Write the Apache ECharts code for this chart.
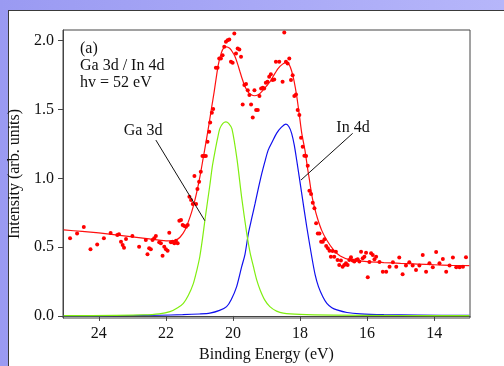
<!DOCTYPE html>
<html>
<head>
<meta charset="utf-8">
<script src="https://cdn.jsdelivr.net/npm/echarts@6/dist/echarts.min.js"></script>
<style>
html,body{margin:0;padding:0;width:504px;height:366px;overflow:hidden;}
#bg{position:absolute;left:0;top:0;width:504px;height:366px;background:linear-gradient(90deg,#9a9af2 0%,#a8a8f6 50%,#b6b6fa 100%);}
#panel{position:absolute;left:8px;top:10px;width:500px;height:360px;background:#fff;border-left:1px solid #3a3a3a;border-top:1px solid #3a3a3a;}
#chart{position:absolute;left:0;top:0;width:504px;height:366px;}
</style>
</head>
<body>
<div id="bg"></div>
<div id="panel"></div>
<div id="chart"></div>
<script>
// ---- data ----
const xTicks = [24, 22, 20, 18, 16, 14];
const yTicks = [0, 0.5, 1.0, 1.5, 2.0];

const fitE = [25.05,24.5,24.0,23.5,23.0,22.5,22.0,21.8,21.7,21.58,21.43,21.28,21.18,21.08,20.98,20.89,20.80,20.72,20.64,20.56,20.44,20.35,20.27,20.19,20.10,20.02,19.94,19.86,19.79,19.72,19.64,19.54,19.44,19.36,19.25,19.14,19.02,18.90,18.78,18.65,18.52,18.42,18.32,18.25,18.18,18.10,18.02,17.95,17.85,17.78,17.72,17.65,17.58,17.48,17.35,17.2,17.0,16.8,16.5,16.0,15.5,15.0,14.5,14.0,13.5,12.95];
const fitI = [0.625,0.614,0.603,0.589,0.575,0.560,0.546,0.545,0.552,0.572,0.625,0.72,0.80,0.90,1.02,1.145,1.27,1.387,1.51,1.63,1.823,1.91,1.95,1.956,1.945,1.92,1.885,1.83,1.774,1.72,1.665,1.625,1.605,1.600,1.607,1.63,1.665,1.70,1.75,1.80,1.83,1.842,1.825,1.78,1.71,1.60,1.46,1.33,1.20,1.08,0.99,0.88,0.80,0.71,0.62,0.55,0.48,0.435,0.407,0.395,0.388,0.382,0.377,0.372,0.368,0.365];

const gaE = [25.05,23.5,22.68,22.2,21.88,21.65,21.48,21.33,21.18,21.08,20.99,20.91,20.84,20.76,20.69,20.62,20.54,20.46,20.39,20.30,20.21,20.13,20.03,19.88,19.74,19.59,19.49,19.39,19.29,19.19,19.05,18.90,18.70,18.50,18.0,17.0,15.0,12.95];
const gaI = [0.002,0.004,0.007,0.015,0.031,0.06,0.092,0.15,0.237,0.33,0.43,0.56,0.69,0.83,0.95,1.08,1.19,1.29,1.363,1.40,1.411,1.40,1.36,1.14,0.86,0.60,0.46,0.358,0.26,0.189,0.115,0.068,0.035,0.02,0.011,0.006,0.003,0.002];

const inE = [25.05,23.0,22.2,21.5,21.0,20.69,20.4,20.19,20.05,19.89,19.74,19.64,19.54,19.44,19.34,19.24,19.14,19.05,18.95,18.82,18.70,18.56,18.42,18.33,18.25,18.17,18.10,17.95,17.80,17.65,17.55,17.45,17.32,17.20,17.05,16.90,16.6,16.2,15.5,14.5,12.95];
const inI = [0.002,0.003,0.005,0.009,0.014,0.02,0.04,0.068,0.12,0.213,0.358,0.45,0.60,0.71,0.818,0.93,1.036,1.12,1.205,1.27,1.327,1.37,1.394,1.375,1.327,1.24,1.133,0.891,0.648,0.43,0.30,0.213,0.14,0.092,0.06,0.044,0.025,0.015,0.009,0.006,0.004];

const dataE = [24.86,24.65,24.45,24.25,24.05,23.85,23.65,23.45,23.40,23.34,23.29,23.25,23.19,23.00,22.80,22.60,22.55,22.50,22.45,22.40,22.35,22.30,22.20,22.15,22.10,22.05,22.00,21.95,21.90,21.85,21.80,21.75,21.70,21.65,21.60,21.55,21.50,21.45,21.40,21.35,21.30,21.25,21.20,21.15,21.10,21.06,21.01,20.96,20.91,20.86,20.81,20.76,20.71,20.68,20.63,20.59,20.51,20.46,20.41,20.36,20.31,20.26,20.21,20.16,20.11,20.06,20.01,19.96,19.91,19.86,19.81,19.76,19.71,19.66,19.61,19.56,19.51,19.46,19.41,19.36,19.31,19.26,19.21,19.16,19.11,19.07,19.02,18.97,18.92,18.87,18.82,18.77,18.72,18.62,18.52,18.47,18.42,18.37,18.32,18.27,18.22,18.17,18.12,18.07,18.02,17.97,17.92,17.87,17.82,17.77,17.72,17.67,17.62,17.57,17.52,17.47,17.42,17.37,17.32,17.27,17.22,17.17,17.12,17.08,17.03,16.98,16.93,16.88,16.83,16.78,16.73,16.68,16.63,16.58,16.53,16.48,16.43,16.38,16.33,16.28,16.23,16.18,16.13,16.08,16.03,15.98,15.93,15.88,15.83,15.78,15.73,15.63,15.53,15.43,15.33,15.23,15.13,15.04,14.94,14.84,14.74,14.64,14.54,14.44,14.34,14.24,14.14,14.04,13.94,13.84,13.74,13.64,13.54,13.44,13.34,13.24,13.14,13.05];
const dataI = [0.564,0.600,0.646,0.484,0.520,0.564,0.603,0.588,0.593,0.540,0.516,0.496,0.559,0.581,0.503,0.552,0.448,0.491,0.484,0.552,0.564,0.581,0.535,0.528,0.438,0.503,0.484,0.474,0.605,0.535,0.540,0.528,0.547,0.528,0.692,0.697,0.661,0.654,0.649,0.661,0.867,0.842,0.813,1.017,0.813,0.922,0.976,1.048,1.162,1.162,1.162,1.266,1.339,1.406,1.477,1.503,1.803,1.803,1.871,1.871,1.895,1.956,1.992,2.004,2.009,1.847,1.840,2.053,1.907,1.944,1.937,1.883,1.537,1.678,1.685,1.641,1.605,1.537,1.443,1.641,1.496,1.496,1.598,1.653,1.658,1.653,1.694,1.702,1.738,1.757,1.714,1.719,1.847,1.847,1.702,2.060,1.847,1.835,1.871,1.714,1.750,1.598,1.610,1.496,1.460,1.295,1.230,1.164,1.162,1.092,0.910,0.886,0.823,0.782,0.673,0.600,0.600,0.540,0.540,0.557,0.508,0.491,0.474,0.431,0.472,0.431,0.467,0.407,0.370,0.402,0.358,0.370,0.383,0.370,0.407,0.426,0.402,0.395,0.407,0.412,0.395,0.467,0.419,0.431,0.460,0.281,0.392,0.455,0.443,0.412,0.431,0.392,0.322,0.322,0.358,0.390,0.358,0.424,0.303,0.366,0.390,0.366,0.334,0.366,0.443,0.322,0.383,0.353,0.465,0.383,0.414,0.322,0.366,0.424,0.353,0.353,0.358,0.426];

const gaLeader = [[22.30, 1.278], [20.84, 0.692]];
const inLeader = [[16.43, 1.327], [17.97, 0.988]];
const labelPos = [{name: 'Ga 3d', value: [22.68, 1.345]}, {name: 'In 4d', value: [16.42, 1.367]}];
const infoText = '(a)\nGa 3d / In 4d\nhv = 52 eV';

// ---- chart ----
const zip = (a, b) => a.map((v, i) => [v, b[i]]);
const FONT = 'Liberation Serif';
const TXT = '#111';
const AX = '#444';

const chart = echarts.init(document.getElementById('chart'), null, {renderer: 'canvas'});
chart.setOption({
  backgroundColor: 'transparent',
  animation: false,
  textStyle: {fontFamily: FONT},
  grid: {left: 63, right: 34, top: 30, bottom: 48, show: true, borderColor: AX, borderWidth: 1,
    backgroundColor: 'transparent', containLabel: false, outerBoundsMode: 'none'},
  xAxis: {
    type: 'value', inverse: true, min: 12.93, max: 25.07,
    name: 'Binding Energy (eV)', nameLocation: 'middle', nameGap: 28,
    nameTextStyle: {fontFamily: FONT, fontSize: 16, color: TXT},
    axisLine: {show: true, lineStyle: {color: AX, width: 1}},
    axisTick: {show: true, inside: false, length: 5, customValues: xTicks, lineStyle: {color: AX}},
    axisLabel: {customValues: xTicks, margin: 8, fontFamily: FONT, fontSize: 16, color: TXT},
    splitLine: {show: false}
  },
  yAxis: {
    type: 'value', min: -0.015, max: 2.078,
    name: 'Intensity (arb. units)', nameLocation: 'middle', nameGap: 34,
    nameTextStyle: {fontFamily: FONT, fontSize: 16, color: TXT},
    axisLine: {show: true, lineStyle: {color: AX, width: 1}},
    axisTick: {show: true, inside: false, length: 5, customValues: yTicks, lineStyle: {color: AX}},
    axisLabel: {customValues: yTicks, margin: 9, fontFamily: FONT, fontSize: 16, color: TXT,
      formatter: v => v.toFixed(1)},
    splitLine: {show: false}
  },
  graphic: [{
    type: 'text', left: 80, top: 40,
    style: {text: infoText, font: '16px "Liberation Serif"', fill: TXT, lineHeight: 17}
  }],
  series: [
    {type: 'line', data: zip(inE, inI), showSymbol: false, smooth: 0.25, lineStyle: {color: '#1010ee', width: 1.2}, z: 2},
    {type: 'line', data: zip(gaE, gaI), showSymbol: false, smooth: 0.25, lineStyle: {color: '#80ee10', width: 1.2}, z: 3},
    {type: 'line', data: zip(fitE, fitI), showSymbol: false, smooth: 0.25, lineStyle: {color: '#ff1010', width: 1.2}, z: 4},
    {type: 'scatter', data: zip(dataE, dataI), symbol: 'circle', symbolSize: 4, itemStyle: {color: '#ff0000', opacity: 1}, z: 5},
    {type: 'line', data: gaLeader, showSymbol: false, lineStyle: {color: '#111', width: 1}, z: 6},
    {type: 'line', data: inLeader, showSymbol: false, lineStyle: {color: '#111', width: 1}, z: 6},
    {type: 'scatter', data: labelPos, symbolSize: 0, z: 7, itemStyle: {opacity: 1},
      label: {show: true, position: [0, 0], align: 'center', verticalAlign: 'middle',
        formatter: p => p.name, fontFamily: FONT, fontSize: 16, color: TXT,
        textBorderWidth: 0, opacity: 1}}
  ]
});
</script>
</body>
</html>
